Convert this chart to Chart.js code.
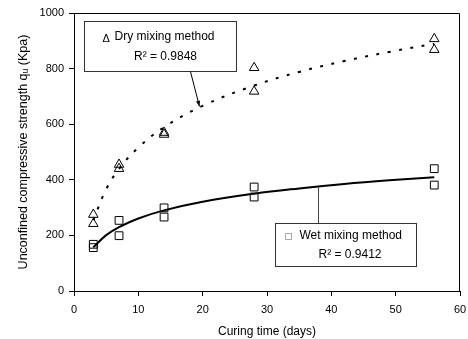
<!DOCTYPE html>
<html>
<head>
<meta charset="utf-8">
<script src="https://cdn.jsdelivr.net/npm/chart.js@4.4.0/dist/chart.umd.min.js"></script>
<style>
  html, body { margin: 0; padding: 0; background: #fff; }
</style>
</head>
<body>
<canvas id="chart" width="468" height="339"></canvas>
<script>
// === Data ===
const days = [3, 3, 7, 7, 14, 14, 28, 28, 56, 56];
const dryStrength = [275, 242, 455, 440, 570, 563, 803, 718, 907, 868];
const wetStrength = [168, 156, 254, 199, 299, 266, 374, 338, 440, 381];

// trend curves, read at a few points along each line
const trendDays = [3, 5, 7, 10, 14, 20, 28, 35, 42, 49, 56];
const dryTrend = [255, 366, 439, 516, 589, 666, 739, 788, 827, 860, 889];
const wetTrend = [157, 201, 230, 261, 290, 321, 350, 369, 385, 398, 409];

const xTicks = [0, 10, 20, 30, 40, 50, 60];
const yTicks = [0, 200, 400, 600, 800, 1000];

const FONT = "'Liberation Sans', Arial, sans-serif";

const toPoints = (xs, ys) => xs.map((x, i) => ({ x, y: ys[i] }));

// === Callout boxes, arrows and frame ===
const notes = {
  id: "notes",
  afterDraw(chart) {
    const { ctx, chartArea: a, scales } = chart;
    const px = (v) => scales.x.getPixelForValue(v);
    const py = (v) => scales.y.getPixelForValue(v);
    ctx.save();

    // top and right frame
    ctx.strokeStyle = "#000";
    ctx.lineWidth = 1;
    ctx.beginPath();
    ctx.moveTo(a.left, a.top + 0.5);
    ctx.lineTo(a.right - 0.5, a.top + 0.5);
    ctx.lineTo(a.right - 0.5, a.bottom);
    ctx.stroke();

    // Dry box
    const dx0 = Math.round(px(1.6)) + 0.5, dx1 = Math.round(px(25.2)) + 0.5;
    const dy0 = Math.round(py(970)) + 0.5, dy1 = Math.round(py(790)) + 0.5;
    ctx.fillStyle = "#fff";
    ctx.fillRect(dx0, dy0, dx1 - dx0, dy1 - dy0);
    ctx.strokeStyle = "#333";
    ctx.strokeRect(dx0, dy0, dx1 - dx0, dy1 - dy0);

    ctx.fillStyle = "#000";
    ctx.textBaseline = "middle";
    ctx.textAlign = "left";
    ctx.font = "11px " + FONT;
    ctx.fillText("\u0394", dx0 + 18, dy0 + 17);
    ctx.font = "12px " + FONT;
    ctx.fillText("Dry mixing method", dx0 + 30, dy0 + 15);
    ctx.textAlign = "center";
    ctx.fillText("R\u00b2 = 0.9848", (dx0 + dx1) / 2 + 5, dy0 + 35);

    // arrow to dry curve
    const ax0 = px(18.1), ay0 = dy1;
    const ax1 = px(19.5), ay1 = py(664);
    ctx.strokeStyle = "#000";
    ctx.beginPath();
    ctx.moveTo(ax0, ay0);
    ctx.lineTo(ax1, ay1);
    ctx.stroke();
    const ang = Math.atan2(ay1 - ay0, ax1 - ax0);
    ctx.beginPath();
    ctx.moveTo(ax1, ay1);
    ctx.lineTo(ax1 - 6 * Math.cos(ang - 0.35), ay1 - 6 * Math.sin(ang - 0.35));
    ctx.lineTo(ax1 - 6 * Math.cos(ang + 0.35), ay1 - 6 * Math.sin(ang + 0.35));
    ctx.closePath();
    ctx.fillStyle = "#000";
    ctx.fill();

    // Wet box
    const wx0 = Math.round(px(31.2)) + 0.5, wx1 = Math.round(px(53.2)) + 0.5;
    const wy0 = Math.round(py(243)) + 0.5, wy1 = Math.round(py(90)) + 0.5;
    // connector
    const cx = Math.round(px(38.0)) + 0.5;
    ctx.strokeStyle = "#444";
    ctx.beginPath();
    ctx.moveTo(cx, py(375));
    ctx.lineTo(cx, wy0);
    ctx.stroke();

    ctx.fillStyle = "#fff";
    ctx.fillRect(wx0, wy0, wx1 - wx0, wy1 - wy0);
    ctx.strokeStyle = "#333";
    ctx.strokeRect(wx0, wy0, wx1 - wx0, wy1 - wy0);

    ctx.strokeStyle = "#aaa";
    ctx.strokeRect(wx0 + 10, wy0 + 10, 6, 6);
    ctx.fillStyle = "#000";
    ctx.textAlign = "left";
    ctx.font = "12px " + FONT;
    ctx.fillText("Wet mixing method", wx0 + 24, wy0 + 12);
    ctx.textAlign = "center";
    ctx.fillText("R\u00b2 = 0.9412", (wx0 + wx1) / 2 + 4, wy0 + 31);

    ctx.restore();
  },
};

new Chart(document.getElementById("chart"), {
  type: "scatter",
  data: {
    datasets: [
      {
        label: "Dry trend",
        data: toPoints(trendDays, dryTrend),
        showLine: true,
        borderColor: "#000",
        borderWidth: 2,
        borderDash: [3, 8.5],
        pointRadius: 0,
        tension: 0.4,
        fill: false,
      },
      {
        label: "Wet trend",
        data: toPoints(trendDays, wetTrend),
        showLine: true,
        borderColor: "#000",
        borderWidth: 2,
        pointRadius: 0,
        tension: 0.4,
        fill: false,
      },
      {
        label: "Dry mixing method",
        data: toPoints(days, dryStrength),
        pointStyle: "triangle",
        pointRadius: 5.5,
        pointBorderWidth: 1,
        pointBorderColor: "#000",
        pointBackgroundColor: "rgba(0,0,0,0)",
      },
      {
        label: "Wet mixing method",
        data: toPoints(days, wetStrength),
        pointStyle: "rect",
        pointRadius: 5.5,
        pointBorderWidth: 1,
        pointBorderColor: "#000",
        pointBackgroundColor: "rgba(0,0,0,0)",
      },
    ],
  },
  options: {
    responsive: false,
    animation: false,
    devicePixelRatio: 1,
    layout: { padding: { top: 13, right: 8, left: 0, bottom: 0 } },
    plugins: {
      legend: { display: false },
      tooltip: { enabled: false },
    },
    scales: {
      x: {
        type: "linear",
        min: 0,
        max: 60,
        afterBuildTicks: (s) => { s.ticks = xTicks.map((v) => ({ value: v })); },
        afterFit: (s) => {
          s.height = 48;
          s.paddingLeft = 0;
          s.paddingRight = 0;
        },
        grid: { drawOnChartArea: false, drawTicks: true, tickLength: 5, color: "#000" },
        border: { display: true, color: "#000", width: 1 },
        ticks: { color: "#000", font: { family: FONT, size: 11 }, padding: 7, maxRotation: 0 },
        title: {
          display: true,
          text: "Curing time (days)",
          color: "#000",
          font: { family: FONT, size: 12 },
          padding: { top: 3, bottom: 0 },
        },
      },
      y: {
        type: "linear",
        min: 0,
        max: 1000,
        afterBuildTicks: (s) => { s.ticks = yTicks.map((v) => ({ value: v })); },
        afterFit: (s) => {
          s.width = 74;
          s.paddingTop = 0;
          s.paddingBottom = 0;
        },
        grid: { drawOnChartArea: false, drawTicks: true, tickLength: 5, color: "#000" },
        border: { display: true, color: "#000", width: 1 },
        ticks: {
          color: "#000",
          font: { family: FONT, size: 11 },
          padding: 5,
          callback: (v) => String(v),
        },
        title: {
          display: true,
          text: "Unconfined compressive strength q\u1d64 (Kpa)",
          color: "#000",
          font: { family: FONT, size: 12.5 },
          padding: { top: 16, bottom: 0 },
        },
      },
    },
  },
  plugins: [notes],
});
</script>
</body>
</html>
